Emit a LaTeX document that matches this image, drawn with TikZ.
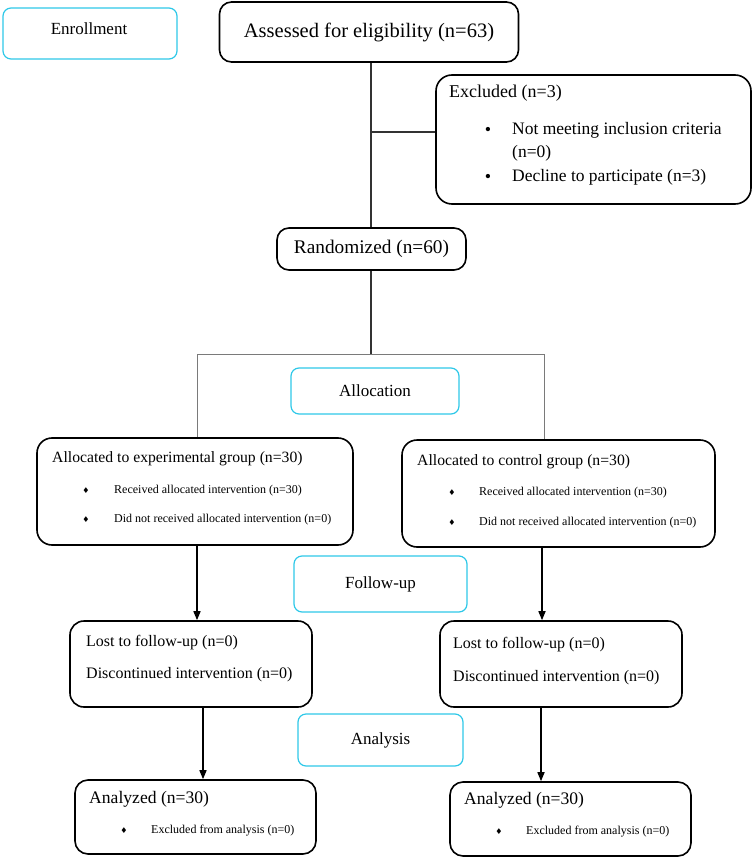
\documentclass[tikz,border=0pt]{standalone}
\usepackage{fontspec}
\setmainfont{Liberation Serif}
\newfontfamily\symfont{DejaVu Sans}
\usetikzlibrary{arrows.meta}
\definecolor{stagecyan}{HTML}{2EC8E8}
\definecolor{linegray}{HTML}{333333}
\definecolor{splitgray}{HTML}{7A7A7A}
\begin{document}
\begin{tikzpicture}[x=1pt,y=-1pt,
  box/.style={draw=black,line width=1.6pt,rounded corners=12pt,inner sep=0pt},
  stage/.style={draw=stagecyan,line width=1.2pt,rounded corners=8pt,inner sep=0pt,font=\fontsize{17}{20}\selectfont},
  txt/.style={anchor=west,inner sep=0pt},
  ttl/.style={txt,font=\fontsize{15.7}{18}\selectfont},
  mid/.style={txt,font=\fontsize{16}{19}\selectfont},
  sml/.style={txt,font=\fontsize{12}{14}\selectfont},
  dia/.style={anchor=center,inner sep=0pt,font=\symfont\fontsize{8}{9}\selectfont},
  conn/.style={draw=linegray,line width=1.5pt},
  arr/.style={draw=black,line width=1.5pt,-{Triangle[length=9pt,width=7pt]}},
  split/.style={draw=splitgray,line width=1pt}]
\useasboundingbox (0,0) rectangle (754,858);

% stage labels
\node[stage,minimum width=174pt,minimum height=51pt] (enr) at (90,33.5) {};
\node[inner sep=0pt,font=\fontsize{17}{20}\selectfont] (enrt) at (89,29) {Enrollment};
\node[stage,minimum width=168pt,minimum height=46pt] (alloc) at (375,391) {Allocation};
\node[stage,minimum width=173pt,minimum height=56pt] (foll) at (380.5,584) {Follow-up};
\node[stage,minimum width=165pt,minimum height=52pt] (anal) at (380.5,740) {Analysis};

% main boxes
\node[box,minimum width=299pt,minimum height=60pt,font=\fontsize{20.5}{24}\selectfont] (ass) at (369,32) {Assessed for eligibility (n=63)};
\node[box,minimum width=315pt,minimum height=129pt,rounded corners=16pt] (excl) at (593.5,139.5) {};
\node[box,minimum width=189pt,minimum height=42pt,font=\fontsize{19.3}{22}\selectfont] (rand) at (371.5,249) {Randomized (n=60)};
\node[box,minimum width=316pt,minimum height=107pt,rounded corners=15pt] (expA) at (195,491.5) {};
\node[box,minimum width=313pt,minimum height=107pt,rounded corners=15pt] (ctlA) at (558.5,493.5) {};
\node[box,minimum width=242pt,minimum height=86pt,rounded corners=14pt] (lostL) at (191,664) {};
\node[box,minimum width=242pt,minimum height=86pt,rounded corners=14pt] (lostR) at (561,664) {};
\node[box,minimum width=241pt,minimum height=74pt,rounded corners=13pt] (anL) at (195.5,817) {};
\node[box,minimum width=241pt,minimum height=74pt,rounded corners=13pt] (anR) at (570.5,819) {};

% excluded texts
\node[txt,font=\fontsize{18}{21}\selectfont] (ex0) at (449,93) {Excluded (n=3)};
\node[anchor=center,inner sep=0pt,font=\fontsize{18}{21}\selectfont] (exb1) at (488,131) {•};
\node[txt,font=\fontsize{17.5}{21}\selectfont] (ex1) at (512,130) {Not meeting inclusion criteria};
\node[txt,font=\fontsize{17.5}{21}\selectfont] (ex2) at (512,153) {(n=0)};
\node[anchor=center,inner sep=0pt,font=\fontsize{18}{21}\selectfont] (exb2) at (488,178) {•};
\node[txt,font=\fontsize{17.5}{21}\selectfont] (ex3) at (512,177) {Decline to participate (n=3)};

% experimental allocation
\node[ttl] (e0) at (52,459) {Allocated to experimental group (n=30)};
\node[dia] (eb1) at (86,491) {♦};
\node[sml] (e1) at (114,491) {Received allocated intervention (n=30)};
\node[dia] (eb2) at (86,520) {♦};
\node[sml] (e2) at (114,520) {Did not received allocated intervention (n=0)};

% control allocation
\node[ttl] (c0) at (417,462) {Allocated to control group (n=30)};
\node[dia] (cb1) at (452,493) {♦};
\node[sml] (c1) at (479,493) {Received allocated intervention (n=30)};
\node[dia] (cb2) at (452,523) {♦};
\node[sml] (c2) at (479,523) {Did not received allocated intervention (n=0)};

% follow-up
\node[mid] (l1) at (86,643) {Lost to follow-up (n=0)};
\node[mid] (l2) at (86,675) {Discontinued intervention (n=0)};
\node[mid] (r1) at (453,645) {Lost to follow-up (n=0)};
\node[mid] (r2) at (453,678) {Discontinued intervention (n=0)};

% analysis
\node[txt,font=\fontsize{17.6}{21}\selectfont] (al0) at (89,799) {Analyzed (n=30)};
\node[dia] (alb) at (124,831) {♦};
\node[sml] (al1) at (151,831) {Excluded from analysis (n=0)};
\node[txt,font=\fontsize{17.6}{21}\selectfont] (ar0) at (464,800) {Analyzed (n=30)};
\node[dia] (arb) at (499,832) {♦};
\node[sml] (ar1) at (526,832) {Excluded from analysis (n=0)};

% connectors
\coordinate (br) at (371,132);
\coordinate (sp) at (371,354);
\coordinate (spL) at (197,354);
\coordinate (spR) at (544,354);
\draw[conn] (ass.south -| br) -- (rand.north -| br);
\draw[conn] (br) -- (br -| excl.west);
\draw[conn] (rand.south -| sp) -- (sp);
\draw[split] (expA.north -| spL) -- (spL) -- (spR) -- (ctlA.north -| spR);
\coordinate (aL) at (197,0);
\coordinate (aR) at (542,0);
\coordinate (bL) at (203,0);
\coordinate (bR) at (541,0);
\draw[arr] (expA.south -| aL) -- (lostL.north -| aL);
\draw[arr] (ctlA.south -| aR) -- (lostR.north -| aR);
\draw[arr] (lostL.south -| bL) -- (anL.north -| bL);
\draw[arr] (lostR.south -| bR) -- (anR.north -| bR);
\end{tikzpicture}
\end{document}
